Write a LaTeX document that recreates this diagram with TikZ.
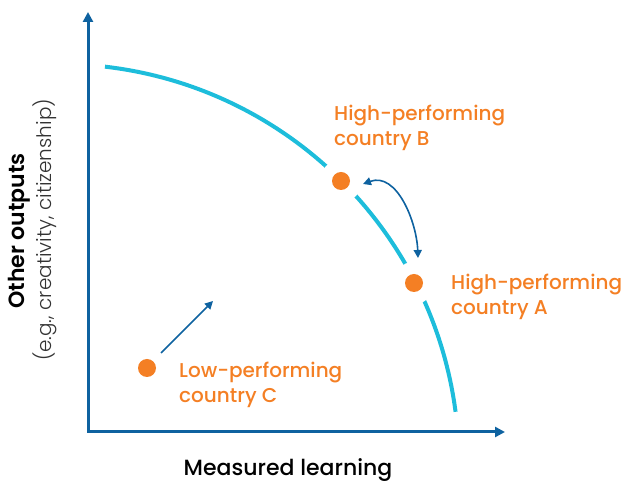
\documentclass[tikz,border=0pt]{standalone}
\usepackage{fontspec}
\setmainfont{Poppins}[UprightFont=* Medium, BoldFont=* SemiBold]
\newfontfamily\lightfont{Poppins}[UprightFont=* Light]
\usepackage{xcolor}
\usetikzlibrary{arrows.meta, positioning}

\definecolor{axisblue}{HTML}{0E62A0}
\definecolor{frontiercyan}{HTML}{1DBDDB}
\definecolor{dotorange}{HTML}{F47F24}

\begin{document}
\begin{tikzpicture}[x=1pt, y=1pt,
			axis/.style={draw=axisblue, line width=3pt, {Triangle[length=10pt,width=10pt]}-{Triangle[length=10pt,width=10pt]}},
			frontier/.style={draw=frontiercyan, line width=4pt},
			dot/.style={circle, fill=dotorange, inner sep=0pt, minimum size=18pt, preaction={draw=white, line width=24pt}},
			lbl/.style={text=dotorange, align=left, anchor=north west, inner sep=0pt, font=\fontsize{20}{25}\selectfont},
			move/.style={draw=axisblue, line width=1.6pt, -{Triangle[length=8pt,width=8pt]}}
			]
			\useasboundingbox (0,0) rectangle (622,482);
			
			% Axes
			\coordinate (ytop) at (88,470);
			\coordinate (xend) at (505,50);
			\draw[axis] (ytop) |- (xend);
			
			% Frontier
			\coordinate (ctr) at (59,18);
			\draw[frontier] (ctr) ++(83.4:400) arc (83.4:7.5:400);
			
			% Countries
			\node[dot] (B) at (341,301) {};
			\node[dot] (A) at (414,199) {};
			\node[dot] (C) at (147,114) {};
			
			\node[lbl] (labB) at (334,377) {High-performing\\country B};
			\node[lbl] (labA) at (451,208) {High-performing\\country A};
			\node[lbl] (labC) at (179,120) {Low-performing\\country C};
			
			% Arrows
			\coordinate (cfrom) at (161,129);
			\coordinate (cto) at (213,181);
			\draw[move] (cfrom) -- (cto);
			
			\coordinate (aend) at (418,224);
			\coordinate (bend) at (363,298);
			\draw[move, {Triangle[length=8pt,width=8pt]}-{Triangle[length=8pt,width=8pt]}] (aend) to[out=92, in=20] (bend);
			
			% Axis titles
			\node[font=\fontsize{22}{24}\selectfont] (xtitle) at (288,12) {Measured learning};
			\node[font=\fontsize{22}{24}\selectfont\bfseries, rotate=90] (ytitle) at (19,251) {Other outputs};
			\node[font=\lightfont\fontsize{20}{22}\selectfont, text=black!80, rotate=90] (ysub) at (45,252) {(e.g., creativity, citizenship)};
			
		\end{tikzpicture}
\end{document}
